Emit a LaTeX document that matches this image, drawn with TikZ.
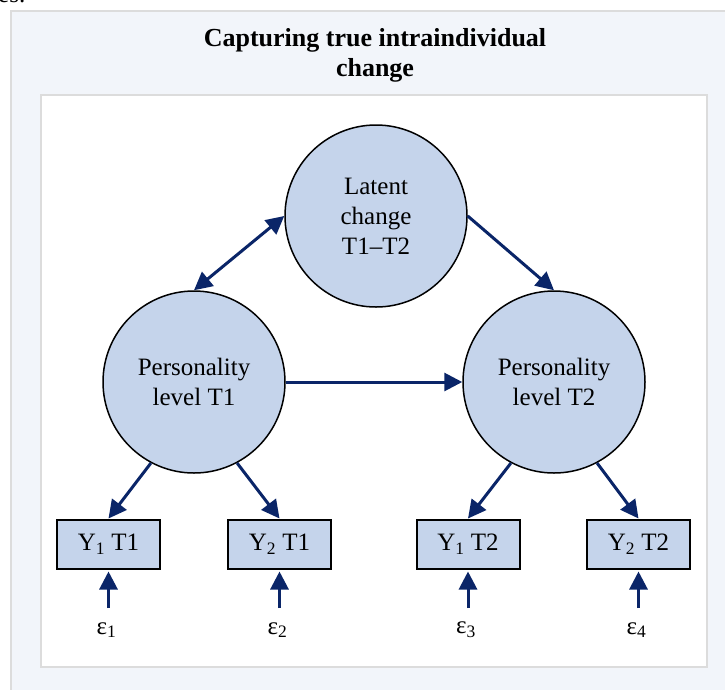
\documentclass[tikz,border=0pt]{standalone}
\usepackage{fontspec}
\setmainfont{Liberation Serif}
\usetikzlibrary{arrows.meta}

\definecolor{panelfill}{HTML}{F2F5FA}
\definecolor{panelline}{HTML}{DCDCDC}
\definecolor{latentblue}{HTML}{C5D4EB}
\definecolor{pathnavy}{HTML}{0A2568}

\tikzset{
  latent/.style={circle, draw=black, line width=1.5pt, fill=latentblue,
    minimum size=182pt, inner sep=0pt, align=center,
    font=\fontsize{25}{30}\selectfont},
  indicator/.style={rectangle, draw=black, line width=2pt, fill=latentblue,
    minimum width=103pt, minimum height=49pt, inner sep=0pt,
    font=\fontsize{25}{30}\selectfont},
  errlabel/.style={inner sep=0pt, font=\fontsize{25}{30}\selectfont},
  sempath/.style={draw=pathnavy, line width=3pt,
    -{Triangle[length=18pt,width=18pt]}},
  twoway/.style={draw=pathnavy, line width=3pt,
    {Triangle[length=18pt,width=18pt]}-{Triangle[length=18pt,width=18pt]}},
}

\begin{document}
\begin{tikzpicture}[x=1pt, y=-1pt]
  \useasboundingbox (0,0) rectangle (725,689);

  % clipped remnant of the caption above
  \node[anchor=base west, inner sep=0pt, font=\fontsize{25}{30}\selectfont]
    (cut) at (-2,2) {es.};

  % panels
  \draw[panelline, line width=2pt, fill=panelfill] (11,11) rectangle (760,720);
  \draw[panelline, line width=2pt, fill=white] (41,95) rectangle (707,667);

  % heading
  \node[align=center, font=\bfseries\fontsize{26}{30}\selectfont] (title)
    at (375,55) {Capturing true intraindividual\\change};

  % latent variables
  \node[latent] (L)  at (376,216) {Latent\\change\\T1--T2};
  \node[latent] (P1) at (194,382) {Personality\\level T1};
  \node[latent] (P2) at (554,382) {Personality\\level T2};

  % observed indicators
  \node[indicator] (y11) at (108.5,544) {Y\textsubscript{1} T1};
  \node[indicator] (y21) at (279.5,544) {Y\textsubscript{2} T1};
  \node[indicator] (y12) at (468,544)   {Y\textsubscript{1} T2};
  \node[indicator] (y22) at (638.5,544) {Y\textsubscript{2} T2};

  % residual terms
  \node[errlabel] (e1) at (106.5,630) {ε\textsubscript{1}};
  \node[errlabel] (e2) at (277.5,630) {ε\textsubscript{2}};
  \node[errlabel] (e3) at (466,630)   {ε\textsubscript{3}};
  \node[errlabel] (e4) at (636.5,630) {ε\textsubscript{4}};
  \coordinate (s1) at (108.5,608);
  \coordinate (s2) at (279.5,608);
  \coordinate (s3) at (468,608);
  \coordinate (s4) at (638.5,608);

  % structural paths
  \draw[twoway] (P1.north) -- (L.west);
  \draw[sempath] (L.east) -- (P2.north);
  \draw[sempath] (P1.east) -- (P2.west);

  % loadings
  \draw[sempath] (P1.242) -- (y11.north);
  \draw[sempath] (P1.298) -- (y21.north);
  \draw[sempath] (P2.242) -- (y12.north);
  \draw[sempath] (P2.298) -- (y22.north);

  % residual arrows
  \draw[sempath, shorten >=2pt] (s1) -- (y11.south);
  \draw[sempath, shorten >=2pt] (s2) -- (y21.south);
  \draw[sempath, shorten >=2pt] (s3) -- (y12.south);
  \draw[sempath, shorten >=2pt] (s4) -- (y22.south);
\end{tikzpicture}
\end{document}
